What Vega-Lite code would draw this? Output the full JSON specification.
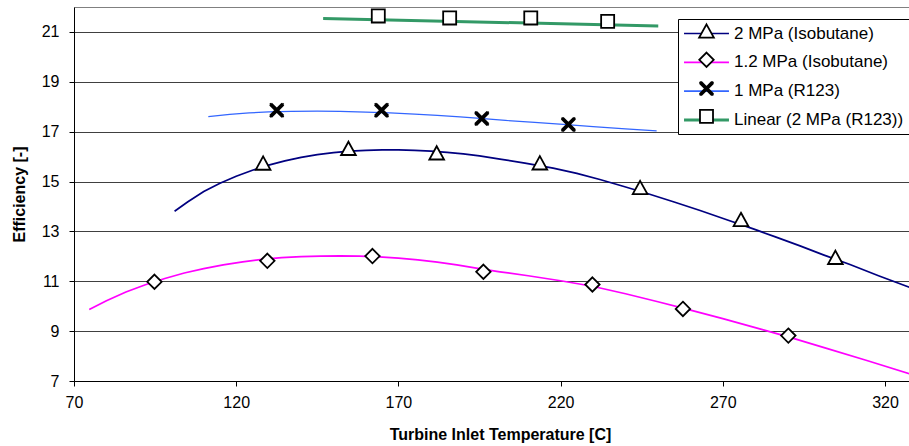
{
  "$schema": "https://vega.github.io/schema/vega-lite/v6.json",
  "width": 836,
  "height": 374,
  "autosize": {"type": "none"},
  "padding": {"left": 74, "top": 7, "right": 0, "bottom": 65},
  "background": "white",
  "config": {"font": "Liberation Sans", "view": {"stroke": "#808080", "strokeWidth": 1}},
  "datasets": {
    "curves": [
      {"series": "2 MPa (Isobutane)", "T": 101, "eff": 13.81},
      {"series": "2 MPa (Isobutane)", "T": 105, "eff": 14.18},
      {"series": "2 MPa (Isobutane)", "T": 110, "eff": 14.6},
      {"series": "2 MPa (Isobutane)", "T": 115, "eff": 14.93},
      {"series": "2 MPa (Isobutane)", "T": 120, "eff": 15.21},
      {"series": "2 MPa (Isobutane)", "T": 125, "eff": 15.45},
      {"series": "2 MPa (Isobutane)", "T": 130, "eff": 15.66},
      {"series": "2 MPa (Isobutane)", "T": 135, "eff": 15.83},
      {"series": "2 MPa (Isobutane)", "T": 140, "eff": 15.97},
      {"series": "2 MPa (Isobutane)", "T": 145, "eff": 16.08},
      {"series": "2 MPa (Isobutane)", "T": 150, "eff": 16.16},
      {"series": "2 MPa (Isobutane)", "T": 155, "eff": 16.22},
      {"series": "2 MPa (Isobutane)", "T": 160, "eff": 16.25},
      {"series": "2 MPa (Isobutane)", "T": 165, "eff": 16.27},
      {"series": "2 MPa (Isobutane)", "T": 170, "eff": 16.27},
      {"series": "2 MPa (Isobutane)", "T": 175, "eff": 16.25},
      {"series": "2 MPa (Isobutane)", "T": 180, "eff": 16.22},
      {"series": "2 MPa (Isobutane)", "T": 185, "eff": 16.17},
      {"series": "2 MPa (Isobutane)", "T": 190, "eff": 16.11},
      {"series": "2 MPa (Isobutane)", "T": 195, "eff": 16.03},
      {"series": "2 MPa (Isobutane)", "T": 201.3, "eff": 15.9},
      {"series": "2 MPa (Isobutane)", "T": 209, "eff": 15.74},
      {"series": "2 MPa (Isobutane)", "T": 217.7, "eff": 15.54},
      {"series": "2 MPa (Isobutane)", "T": 225, "eff": 15.33},
      {"series": "2 MPa (Isobutane)", "T": 232.1, "eff": 15.08},
      {"series": "2 MPa (Isobutane)", "T": 239, "eff": 14.82},
      {"series": "2 MPa (Isobutane)", "T": 246.5, "eff": 14.53},
      {"series": "2 MPa (Isobutane)", "T": 255, "eff": 14.18},
      {"series": "2 MPa (Isobutane)", "T": 263, "eff": 13.84},
      {"series": "2 MPa (Isobutane)", "T": 271, "eff": 13.48},
      {"series": "2 MPa (Isobutane)", "T": 279.4, "eff": 13.1},
      {"series": "2 MPa (Isobutane)", "T": 286, "eff": 12.79},
      {"series": "2 MPa (Isobutane)", "T": 293.8, "eff": 12.42},
      {"series": "2 MPa (Isobutane)", "T": 301, "eff": 12.06},
      {"series": "2 MPa (Isobutane)", "T": 309.2, "eff": 11.67},
      {"series": "2 MPa (Isobutane)", "T": 318, "eff": 11.22},
      {"series": "2 MPa (Isobutane)", "T": 327.7, "eff": 10.75},
      {"series": "1.2 MPa (Isobutane)", "T": 74.7, "eff": 9.87},
      {"series": "1.2 MPa (Isobutane)", "T": 80, "eff": 10.22},
      {"series": "1.2 MPa (Isobutane)", "T": 86, "eff": 10.57},
      {"series": "1.2 MPa (Isobutane)", "T": 92, "eff": 10.86},
      {"series": "1.2 MPa (Isobutane)", "T": 98, "eff": 11.11},
      {"series": "1.2 MPa (Isobutane)", "T": 104, "eff": 11.33},
      {"series": "1.2 MPa (Isobutane)", "T": 110, "eff": 11.51},
      {"series": "1.2 MPa (Isobutane)", "T": 116, "eff": 11.66},
      {"series": "1.2 MPa (Isobutane)", "T": 122, "eff": 11.78},
      {"series": "1.2 MPa (Isobutane)", "T": 128, "eff": 11.88},
      {"series": "1.2 MPa (Isobutane)", "T": 134, "eff": 11.95},
      {"series": "1.2 MPa (Isobutane)", "T": 140, "eff": 11.99},
      {"series": "1.2 MPa (Isobutane)", "T": 146, "eff": 12.01},
      {"series": "1.2 MPa (Isobutane)", "T": 152, "eff": 12.02},
      {"series": "1.2 MPa (Isobutane)", "T": 158, "eff": 12.01},
      {"series": "1.2 MPa (Isobutane)", "T": 164, "eff": 11.98},
      {"series": "1.2 MPa (Isobutane)", "T": 170, "eff": 11.93},
      {"series": "1.2 MPa (Isobutane)", "T": 176, "eff": 11.86},
      {"series": "1.2 MPa (Isobutane)", "T": 182, "eff": 11.77},
      {"series": "1.2 MPa (Isobutane)", "T": 188, "eff": 11.66},
      {"series": "1.2 MPa (Isobutane)", "T": 194, "eff": 11.53},
      {"series": "1.2 MPa (Isobutane)", "T": 201.3, "eff": 11.38},
      {"series": "1.2 MPa (Isobutane)", "T": 210, "eff": 11.22},
      {"series": "1.2 MPa (Isobutane)", "T": 220, "eff": 11.02},
      {"series": "1.2 MPa (Isobutane)", "T": 229.8, "eff": 10.8},
      {"series": "1.2 MPa (Isobutane)", "T": 240, "eff": 10.5},
      {"series": "1.2 MPa (Isobutane)", "T": 250, "eff": 10.18},
      {"series": "1.2 MPa (Isobutane)", "T": 257.7, "eff": 9.92},
      {"series": "1.2 MPa (Isobutane)", "T": 270, "eff": 9.5},
      {"series": "1.2 MPa (Isobutane)", "T": 282.5, "eff": 9.05},
      {"series": "1.2 MPa (Isobutane)", "T": 290.2, "eff": 8.77},
      {"series": "1.2 MPa (Isobutane)", "T": 302, "eff": 8.31},
      {"series": "1.2 MPa (Isobutane)", "T": 314.4, "eff": 7.82},
      {"series": "1.2 MPa (Isobutane)", "T": 327.7, "eff": 7.28},
      {"series": "1 MPa (R123)", "T": 111.4, "eff": 17.6},
      {"series": "1 MPa (R123)", "T": 118, "eff": 17.69},
      {"series": "1 MPa (R123)", "T": 124, "eff": 17.75},
      {"series": "1 MPa (R123)", "T": 130, "eff": 17.79},
      {"series": "1 MPa (R123)", "T": 137, "eff": 17.81},
      {"series": "1 MPa (R123)", "T": 145, "eff": 17.82},
      {"series": "1 MPa (R123)", "T": 152, "eff": 17.81},
      {"series": "1 MPa (R123)", "T": 160, "eff": 17.78},
      {"series": "1 MPa (R123)", "T": 167.4, "eff": 17.75},
      {"series": "1 MPa (R123)", "T": 175, "eff": 17.7},
      {"series": "1 MPa (R123)", "T": 182, "eff": 17.65},
      {"series": "1 MPa (R123)", "T": 189, "eff": 17.59},
      {"series": "1 MPa (R123)", "T": 195.2, "eff": 17.53},
      {"series": "1 MPa (R123)", "T": 203, "eff": 17.45},
      {"series": "1 MPa (R123)", "T": 212, "eff": 17.37},
      {"series": "1 MPa (R123)", "T": 221.9, "eff": 17.28},
      {"series": "1 MPa (R123)", "T": 230, "eff": 17.2},
      {"series": "1 MPa (R123)", "T": 240, "eff": 17.11},
      {"series": "1 MPa (R123)", "T": 249.6, "eff": 17.03},
      {"series": "Linear (2 MPa (R123))", "T": 146.8, "eff": 21.54},
      {"series": "Linear (2 MPa (R123))", "T": 250.1, "eff": 21.24}
    ],
    "markers": [
      {"series": "2 MPa (Isobutane)", "T": 128.3, "eff": 15.74},
      {"series": "2 MPa (Isobutane)", "T": 154.6, "eff": 16.33},
      {"series": "2 MPa (Isobutane)", "T": 181.8, "eff": 16.15},
      {"series": "2 MPa (Isobutane)", "T": 213.6, "eff": 15.75},
      {"series": "2 MPa (Isobutane)", "T": 244.5, "eff": 14.76},
      {"series": "2 MPa (Isobutane)", "T": 275.6, "eff": 13.48},
      {"series": "2 MPa (Isobutane)", "T": 304.7, "eff": 11.96},
      {"series": "1.2 MPa (Isobutane)", "T": 94.8, "eff": 10.98},
      {"series": "1.2 MPa (Isobutane)", "T": 129.6, "eff": 11.82},
      {"series": "1.2 MPa (Isobutane)", "T": 162.0, "eff": 12.01},
      {"series": "1.2 MPa (Isobutane)", "T": 196.2, "eff": 11.38},
      {"series": "1.2 MPa (Isobutane)", "T": 229.8, "eff": 10.87},
      {"series": "1.2 MPa (Isobutane)", "T": 257.7, "eff": 9.89},
      {"series": "1.2 MPa (Isobutane)", "T": 290.2, "eff": 8.82},
      {"series": "1 MPa (R123)", "T": 132.5, "eff": 17.86},
      {"series": "1 MPa (R123)", "T": 164.8, "eff": 17.86},
      {"series": "1 MPa (R123)", "T": 195.7, "eff": 17.53},
      {"series": "1 MPa (R123)", "T": 222.4, "eff": 17.29},
      {"series": "Linear (2 MPa (R123))", "T": 163.8, "eff": 21.64},
      {"series": "Linear (2 MPa (R123))", "T": 185.8, "eff": 21.56},
      {"series": "Linear (2 MPa (R123))", "T": 210.8, "eff": 21.56},
      {"series": "Linear (2 MPa (R123))", "T": 234.5, "eff": 21.42}
    ]
  },
  "layer": [
    {
      "data": {"name": "curves"},
      "mark": {"type": "line", "clip": true},
      "encoding": {
        "x": {
          "field": "T", "type": "quantitative",
          "scale": {"domain": [70, 327.7], "nice": false, "zero": false},
          "axis": {
            "values": [70, 120, 170, 220, 270, 320],
            "title": "Turbine Inlet Temperature [C]",
            "grid": false,
            "domainColor": "black", "tickColor": "black", "tickSize": 5,
            "labelFont": "Liberation Sans", "labelFontSize": 16, "labelColor": "black", "labelPadding": 8, "labelFlush": false,
            "titleFont": "Liberation Sans", "titleFontSize": 16, "titleFontWeight": "bold", "titleColor": "black", "titlePadding": 16, "titleX": 426
          }
        },
        "y": {
          "field": "eff", "type": "quantitative",
          "scale": {"domain": [7, 22], "nice": false, "zero": false},
          "axis": {
            "values": [7, 9, 11, 13, 15, 17, 19, 21],
            "title": "Efficiency [-]",
            "grid": true, "gridColor": "#404040", "gridWidth": 1, "gridOpacity": 1,
            "domainColor": "black", "tickColor": "black", "tickSize": 5,
            "labelFont": "Liberation Sans", "labelFontSize": 16, "labelColor": "black", "labelPadding": 10,
            "titleFont": "Liberation Sans", "titleFontSize": 16, "titleFontWeight": "bold", "titleColor": "black", "titlePadding": 14
          }
        },
        "color": {
          "field": "series", "type": "nominal", "sort": null,
          "scale": {"range": ["#000080", "#FF00FF", "#3366FF", "#339966"]},
          "legend": {
            "title": null, "orient": "none", "legendX": 604, "legendY": 12, "direction": "vertical",
            "fillColor": "white", "strokeColor": "black", "padding": 6,
            "symbolType": "M-3.21,0H3.21", "symbolSize": 196, "symbolStrokeWidth": 1.7, "symbolOpacity": 1, "symbolOffset": 14,
            "labelFont": "Liberation Sans", "labelFontSize": 17, "labelColor": "black", "labelOffset": 19, "labelLimit": 400,
            "rowPadding": 10.8, "zindex": 1,
            "encode": {"symbols": {"update": {"strokeWidth": {"signal": "(datum.value === 'Linear (2 MPa (R123))' ? 3 : 1.7)"}}}}
          }
        },
        "strokeWidth": {
          "condition": [
            {"test": "datum.series === 'Linear (2 MPa (R123))'", "value": 3},
            {"test": "datum.series === '1 MPa (R123)'", "value": 1.2}
          ],
          "value": 1.7
        }
      }
    },
    {
      "data": {"name": "markers"},
      "mark": {"type": "point", "filled": false, "fill": "white", "fillOpacity": 1, "strokeWidth": 1.8, "size": 196, "opacity": 1},
      "encoding": {
        "x": {"field": "T", "type": "quantitative"},
        "y": {"field": "eff", "type": "quantitative"},
        "stroke": {
          "field": "series", "type": "nominal",
          "scale": {
            "domain": ["2 MPa (Isobutane)", "1.2 MPa (Isobutane)", "1 MPa (R123)", "Linear (2 MPa (R123))"],
            "range": ["black", "black", "black", "black"]
          },
          "legend": {
            "title": null, "orient": "none", "legendX": 604, "legendY": 9.5, "direction": "vertical",
            "padding": 6,
            "symbolSize": 196, "symbolFillColor": "white", "symbolStrokeWidth": 1.8, "symbolOpacity": 1, "symbolOffset": 14,
            "labelFont": "Liberation Sans", "labelFontSize": 17, "labelColor": "black", "labelOpacity": 0, "labelOffset": 19, "labelLimit": 400,
            "rowPadding": 6.8, "zindex": 2
          }
        },
        "shape": {
          "field": "series", "type": "nominal",
          "scale": {
            "domain": ["2 MPa (Isobutane)", "1.2 MPa (Isobutane)", "1 MPa (R123)", "Linear (2 MPa (R123))"],
            "range": ["M0,-0.95L1.05,0.95L-1.05,0.95Z", "M0,-1.03L1.03,0L0,1.03L-1.03,0Z", "M-0.98,-0.98L0.98,0.98M-0.98,0.98L0.98,-0.98M-0.98,-0.78L0.78,0.98M-0.78,-0.98L0.98,0.78M-0.98,0.78L0.78,-0.98M-0.78,0.98L0.98,-0.78", "M-0.93,-0.93H0.93V0.93H-0.93Z"]
          },
          "legend": {
            "title": null, "orient": "none", "legendX": 604, "legendY": 9.5, "direction": "vertical",
            "padding": 6,
            "symbolSize": 196, "symbolFillColor": "white", "symbolStrokeWidth": 1.8, "symbolOpacity": 1, "symbolOffset": 14,
            "labelFont": "Liberation Sans", "labelFontSize": 17, "labelColor": "black", "labelOpacity": 0, "labelOffset": 19, "labelLimit": 400,
            "rowPadding": 6.8, "zindex": 2
          }
        }
      }
    }
  ]
}
